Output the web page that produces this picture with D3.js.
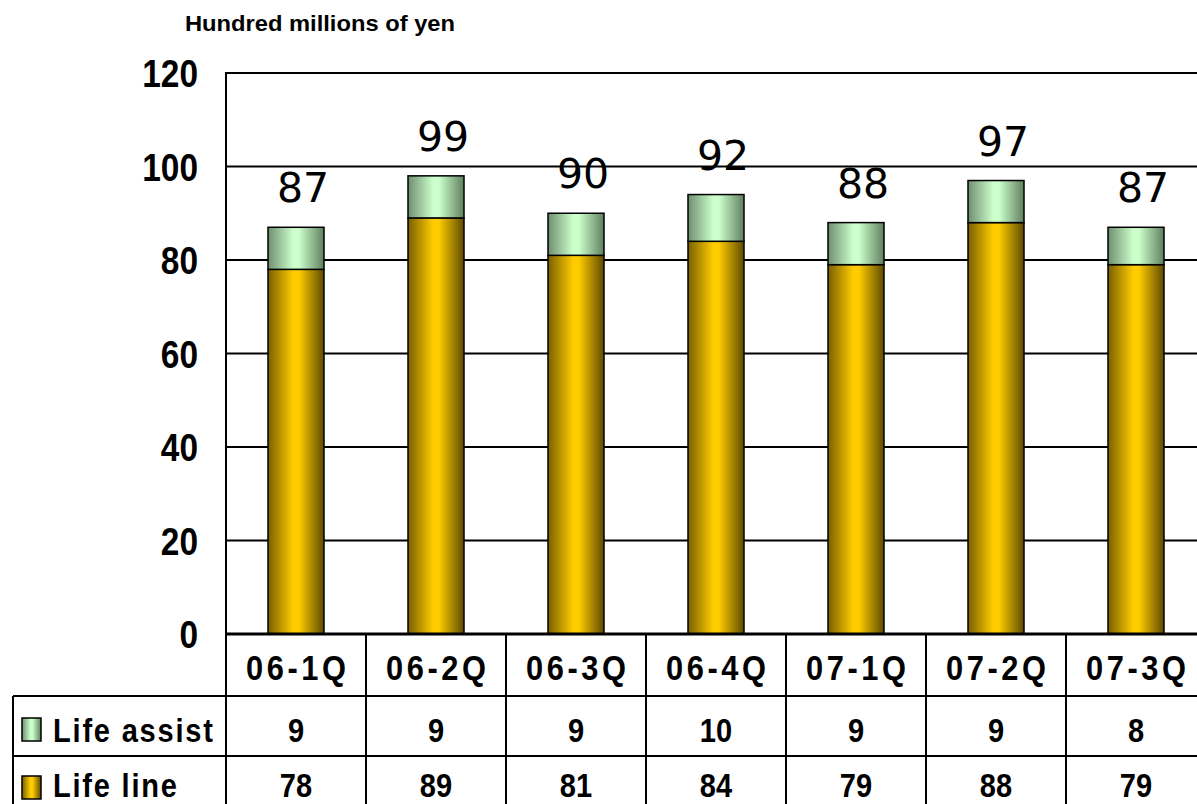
<!DOCTYPE html>
<html>
<head>
<meta charset="utf-8">
<script src="https://cdn.jsdelivr.net/npm/d3@7/dist/d3.min.js"></script>
<style>
  html, body { margin: 0; padding: 0; background: #fff; }
  svg { display: block; }
</style>
</head>
<body>
<svg id="chart" width="1197" height="804"></svg>
<script>
const categories = ["06-1Q", "06-2Q", "06-3Q", "06-4Q", "07-1Q", "07-2Q", "07-3Q"];
const lifeLine   = [78, 89, 81, 84, 79, 88, 79];
const lifeAssist = [9, 9, 9, 10, 9, 9, 8];
const totalLabels = [87, 99, 90, 92, 88, 97, 87];
const yTicks = [0, 20, 40, 60, 80, 100, 120];
const seriesNames = ["Life assist", "Life line"];
const unitTitle = "Hundred millions of yen";

const W = 1197, H = 804;
const plotLeft = 226, plotTop = 73, plotBottom = 634, plotRight = 1206;
const rowTops = [634, 696, 756, 816];
const tableLeft = 13;
const SX = 0.88; // horizontal condense factor for the narrow gothic look
const narrow = "Liberation Sans, Arial, sans-serif";

const svg = d3.select("#chart");
const defs = svg.append("defs");

function grad(id, edgeL, center, edgeR) {
  const g = defs.append("linearGradient").attr("id", id)
    .attr("x1", "0%").attr("x2", "100%").attr("y1", "0%").attr("y2", "0%");
  g.append("stop").attr("offset", "0%").attr("stop-color", edgeL);
  g.append("stop").attr("offset", "45%").attr("stop-color", center);
  g.append("stop").attr("offset", "55%").attr("stop-color", center);
  g.append("stop").attr("offset", "100%").attr("stop-color", edgeR);
}
grad("gLine", "#7a6000", "#ffcc00", "#5e4a00");
grad("gAssist", "#6f8f6f", "#ccffcc", "#5f7f5f");

const y = d3.scaleLinear().domain([0, 120]).range([plotBottom, plotTop]);
const x = d3.scaleBand().domain(categories).range([plotLeft, plotRight])
  .paddingInner(0.6).paddingOuter(0.3);
const xCol = d3.scaleBand().domain(categories).range([plotLeft, plotRight]).padding(0);

// condensed text helper
function ctext(parent, cx, cy, str, opts) {
  const g = parent.append("g").attr("transform", `translate(${cx},${cy})`);
  const t = g.append("text").attr("x", 0).attr("y", 0)
    .attr("transform", `scale(${SX},1)`)
    .attr("text-anchor", opts.anchor || "middle")
    .attr("font-family", narrow).attr("font-weight", "bold")
    .attr("font-size", opts.size).attr("fill", "#000")
    .text(str);
  if (opts.len) t.attr("textLength", opts.len / SX).attr("lengthAdjust", "spacing");
  return t;
}

// Title
svg.append("text").attr("x", 185).attr("y", 31)
  .attr("font-family", "Liberation Sans, Arial, sans-serif")
  .attr("font-weight", "bold").attr("font-size", 22)
  .attr("textLength", 270).attr("lengthAdjust", "spacingAndGlyphs")
  .text(unitTitle);

// Gridlines
svg.append("g").selectAll("line").data(yTicks.filter(d => d > 0)).join("line")
  .attr("x1", plotLeft).attr("x2", W)
  .attr("y1", d => y(d)).attr("y2", d => y(d))
  .attr("stroke", "#000").attr("stroke-width", 2);

// Y tick labels via axis
const yAxis = d3.axisLeft(y).tickValues(yTicks).tickSize(0).tickPadding(0);
const gy = svg.append("g").attr("transform", `translate(198,0)`).call(yAxis);
gy.select(".domain").remove();
gy.selectAll("text")
  .attr("x", 0)
  .attr("transform", `scale(${SX},1)`)
  .attr("font-family", narrow)
  .attr("font-weight", "bold").attr("font-size", 38).attr("fill", "#000")
  .attr("dy", "0.36em");

// Stacked bars
const stackData = categories.map((c, i) => ({ cat: c, line: lifeLine[i], assist: lifeAssist[i] }));
const bars = svg.append("g");
bars.selectAll("rect.line").data(stackData).join("rect")
  .attr("class", "line")
  .attr("x", d => x(d.cat)).attr("width", x.bandwidth())
  .attr("y", d => y(d.line)).attr("height", d => y(0) - y(d.line))
  .attr("fill", "url(#gLine)").attr("stroke", "#000").attr("stroke-width", 1.5);
bars.selectAll("rect.assist").data(stackData).join("rect")
  .attr("class", "assist")
  .attr("x", d => x(d.cat)).attr("width", x.bandwidth())
  .attr("y", d => y(d.line + d.assist)).attr("height", d => y(d.line) - y(d.line + d.assist))
  .attr("fill", "url(#gAssist)").attr("stroke", "#000").attr("stroke-width", 1.5);

// Total labels
svg.append("g").selectAll("text").data(stackData).join("text")
  .attr("x", d => x(d.cat) + x.bandwidth() / 2 + 7)
  .attr("y", d => y(d.line + d.assist) - 25)
  .attr("text-anchor", "middle")
  .attr("font-family", "DejaVu Sans, sans-serif").attr("font-size", 41)
  .attr("fill", "#000")
  .text((d, i) => totalLabels[i]);

// Zero axis line and vertical axis
svg.append("line").attr("x1", plotLeft).attr("x2", W).attr("y1", y(0)).attr("y2", y(0))
  .attr("stroke", "#000").attr("stroke-width", 3);
svg.append("line").attr("x1", plotLeft).attr("x2", plotLeft).attr("y1", plotTop - 1).attr("y2", H)
  .attr("stroke", "#000").attr("stroke-width", 2);

// Table lines
const tbl = svg.append("g");
[rowTops[1], rowTops[2]].forEach(ry => {
  tbl.append("line").attr("x1", tableLeft).attr("x2", W).attr("y1", ry).attr("y2", ry)
    .attr("stroke", "#000").attr("stroke-width", 2);
});
tbl.append("line").attr("x1", tableLeft).attr("x2", tableLeft).attr("y1", rowTops[1]).attr("y2", H)
  .attr("stroke", "#000").attr("stroke-width", 2);
tbl.selectAll("line.col").data(categories.slice(1)).join("line").attr("class", "col")
  .attr("x1", d => xCol(d)).attr("x2", d => xCol(d))
  .attr("y1", rowTops[0]).attr("y2", H)
  .attr("stroke", "#000").attr("stroke-width", 2);

// Category row (baselines)
const rowBaselines = [680, 742, 797];
categories.forEach(c => {
  ctext(tbl, xCol(c) + xCol.bandwidth() / 2, rowBaselines[0], c, { size: 35, len: 100 });
});

// Value rows
const rows = [lifeAssist, lifeLine];
const rowGrad = ["url(#gAssist)", "url(#gLine)"];
const rowTextLen = [160, 124];
const keyTops = [718, 776];
rows.forEach((vals, r) => {
  const bl = rowBaselines[r + 1];
  categories.forEach((c, i) => {
    ctext(tbl, xCol(c) + xCol.bandwidth() / 2, bl, vals[i], { size: 33 });
  });
  tbl.append("rect").attr("x", 22).attr("y", keyTops[r]).attr("width", 19).attr("height", 23)
    .attr("fill", rowGrad[r]).attr("stroke", "#000").attr("stroke-width", 1.5);
  ctext(tbl, 53, bl, seriesNames[r], { size: 33, anchor: "start", len: rowTextLen[r] });
});
</script>
</body>
</html>
